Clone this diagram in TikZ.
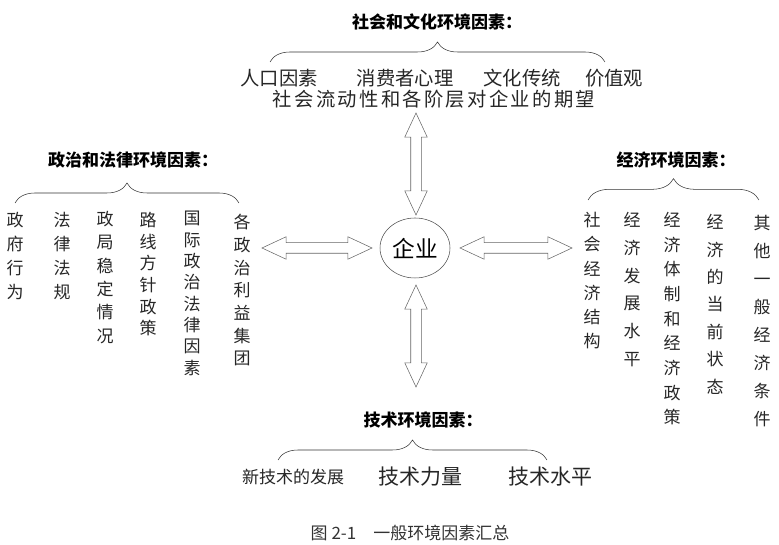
\documentclass[tikz,border=0pt]{standalone}
\usepackage{fontspec}
\setmainfont{Noto Sans CJK SC}
\usetikzlibrary{shapes,arrows.meta,positioning,calc,decorations.pathreplacing}

\begin{document}
\begin{tikzpicture}[x=0.75pt, y=0.75pt,
    title/.style={font=\fontsize{12.75}{15}\selectfont\bfseries, inner sep=0pt},
    item/.style={font=\fontsize{14.5}{17}\selectfont, text=black!85, inner sep=0pt},
    col/.style={font=\fontsize{12.75}{#1}\selectfont, text=black!85, align=center, anchor=north, inner sep=0pt},
    bracket/.style={draw=black!80, decorate, decoration={brace, amplitude=#1}},
    darrow/.style={double arrow, draw=black!60, fill=white, inner sep=3.75pt,
        double arrow head extend=4.5pt, double arrow tip angle=50}]
    \useasboundingbox (0,0) rectangle (779,545);

    % Enterprise
    \node[ellipse, draw=black!70, inner sep=0pt, minimum width=52.5pt, minimum height=45pt,
        font=\fontsize{17}{20}\selectfont] (firm) at (415,297) {企业};

    % Social and cultural
    \node[title] (soc) at (437,523) {社会和文化环境因素：};
    \draw[bracket=15pt] (270,483) -- (605,483);
    \node[item] (pop) at (279,467) {人口因素};
    \node[item] (cons) at (405,467) {消费者心理};
    \node[item] (trad) at (522,467) {文化传统};
    \node[item] (val) at (614,467) {价值观};
    \node[item, font=\fontsize{14.5}{17}\selectfont\addfontfeature{LetterSpace=12}] (mob) at (434,446) {社会流动性和各阶层对企业的期望};
    \node[darrow, minimum height=76.5pt, rotate=90] (up) at (416,381) {};

    % Political and legal
    \node[title] (pol) at (133,385) {政治和法律环境因素：};
    \draw[bracket=15pt] (15,342) -- (239,342);
    \node[col=18] (pol1) at (15,333) {政\\府\\行\\为};
    \node[col=18] (pol2) at (62,333) {法\\律\\法\\规};
    \node[col=17.5] (pol3) at (105,334) {政\\局\\稳\\定\\情\\况};
    \node[col=16.25] (pol4) at (148,333) {路\\线\\方\\针\\政\\策};
    \node[col=16] (pol5) at (192,334) {国\\际\\政\\治\\法\\律\\因\\素};
    \node[col=17] (pol6) at (242,331) {各\\政\\治\\利\\益\\集\\团};
    \node[darrow, minimum height=82.5pt] (left) at (317,297) {};

    % Economic
    \node[title] (eco) at (676,385) {经济环境因素：};
    \draw[bracket=16pt] (588,345) -- (759,345);
    \node[col=18.2] (eco1) at (592,333) {社\\会\\经\\济\\结\\构};
    \node[col=20.8] (eco2) at (632,333) {经\\济\\发\\展\\水\\平};
    \node[col=18.5] (eco3) at (672,333) {经\\济\\体\\制\\和\\经\\济\\政\\策};
    \node[col=20.6] (eco4) at (715,331) {经\\济\\的\\当\\前\\状\\态};
    \node[col=21] (eco5) at (762,330) {其\\他\\一\\般\\经\\济\\条\\件};
    \node[darrow, minimum height=84pt] (right) at (516,297) {};

    % Technological
    \node[title] (tech) at (423,125) {技术环境因素：};
    \draw[bracket=15pt] (278,85) -- (547,85);
    \node[item, font=\fontsize{12.75}{15}\selectfont] (tech1) at (293,68) {新技术的发展};
    \node[item, font=\fontsize{15.75}{18}\selectfont] (tech2) at (420,68) {技术力量};
    \node[item, font=\fontsize{15.75}{18}\selectfont] (tech3) at (550,68) {技术水平};
    \node[darrow, minimum height=76.5pt, rotate=90] (down) at (416,209) {};

    % Caption
    \node[font=\fontsize{12.75}{15}\selectfont, text=black!80] (cap) at (410,12) {图 2-1\quad 一般环境因素汇总};
\end{tikzpicture}
\end{document}
